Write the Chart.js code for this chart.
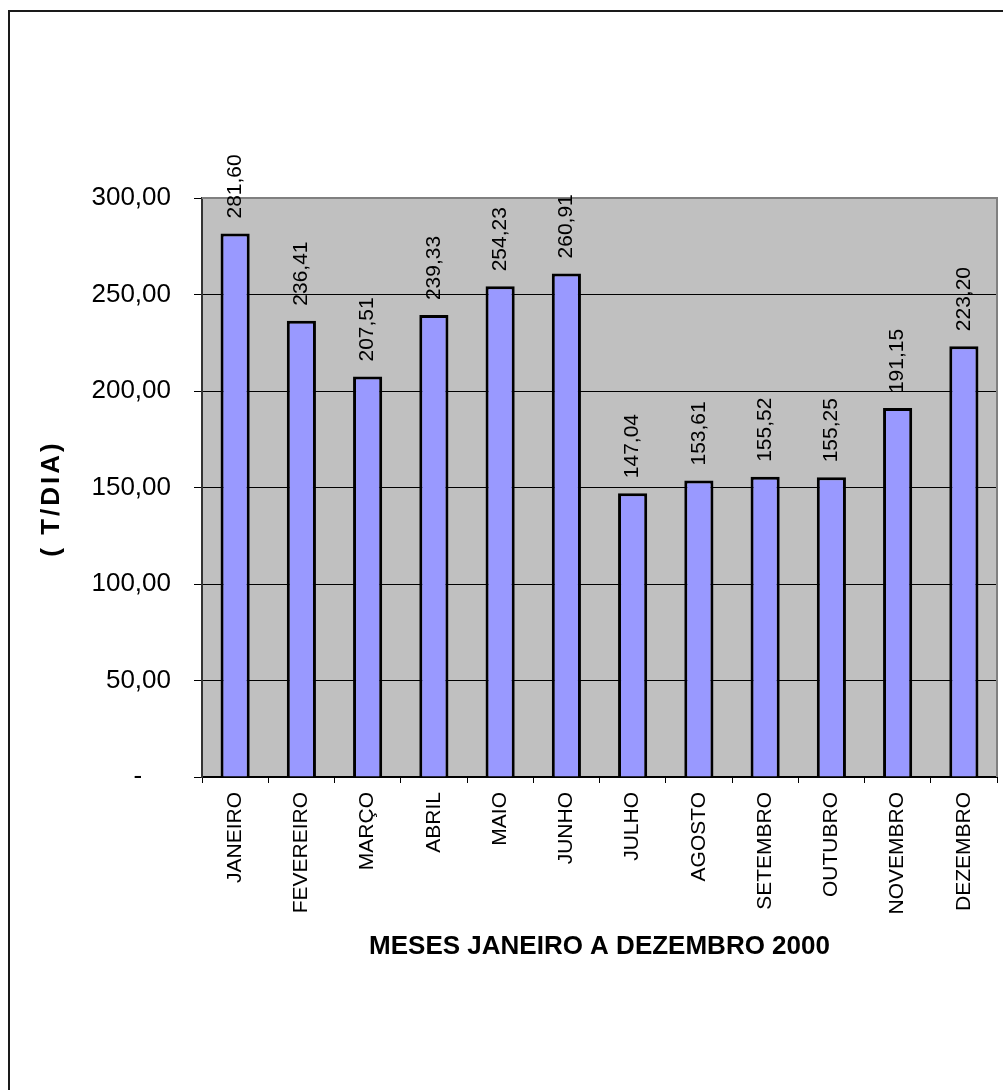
<!DOCTYPE html>
<html>
<head>
<meta charset="utf-8">
<script src="https://cdn.jsdelivr.net/npm/chart.js@4.4.0/dist/chart.umd.min.js"></script>
<style>
  body { margin: 0; background: #fff; }
  canvas { display: block; }
</style>
</head>
<body>
<canvas id="chart" width="1003" height="1090"></canvas>
<script>
const months = ['JANEIRO', 'FEVEREIRO', 'MARÇO', 'ABRIL', 'MAIO', 'JUNHO',
  'JULHO', 'AGOSTO', 'SETEMBRO', 'OUTUBRO', 'NOVEMBRO', 'DEZEMBRO'];
const tonsPerDay = [281.60, 236.41, 207.51, 239.33, 254.23, 260.91,
  147.04, 153.61, 155.52, 155.25, 191.15, 223.20];
const yAxisTitle = '( T/DIA)';
const xAxisTitle = 'MESES JANEIRO A DEZEMBRO 2000';

const FONT = 'Arial, "Liberation Sans", sans-serif';

// 281.6 -> "281,60"
function fmt(v) {
  return v.toFixed(2).replace('.', ',');
}

// Page frame, gray plot area, value labels and axis titles
const decorations = {
  id: 'decorations',
  beforeDraw(chart) {
    const { ctx, chartArea: a } = chart;
    ctx.save();
    ctx.fillStyle = '#fff';
    ctx.fillRect(0, 0, chart.width, chart.height);

    ctx.strokeStyle = '#1a1a1a';
    ctx.lineWidth = 2;
    ctx.beginPath();
    ctx.moveTo(9, chart.height);
    ctx.lineTo(9, 11);
    ctx.lineTo(chart.width, 11);
    ctx.stroke();

    ctx.fillStyle = '#c0c0c0';
    ctx.fillRect(a.left, a.top, a.width, a.height);
    ctx.restore();
  },
  beforeDatasetsDraw(chart) {
    const { ctx, chartArea: a } = chart;
    ctx.save();
    ctx.strokeStyle = '#808080';
    ctx.lineWidth = 2;
    ctx.beginPath();
    ctx.moveTo(a.left, a.top);
    ctx.lineTo(a.right, a.top);
    ctx.lineTo(a.right, a.bottom);
    ctx.stroke();
    ctx.restore();
  },
  afterDatasetsDraw(chart) {
    const { ctx, chartArea: a } = chart;
    const bars = chart.getDatasetMeta(0).data;
    ctx.save();
    ctx.fillStyle = '#000';
    ctx.font = '21px ' + FONT;
    ctx.textAlign = 'left';
    ctx.textBaseline = 'middle';
    bars.forEach((bar, i) => {
      ctx.save();
      ctx.translate(bar.x, bar.y - 15);
      ctx.rotate(-Math.PI / 2);
      ctx.fillText(fmt(tonsPerDay[i]), 0, 0);
      ctx.restore();
    });

    // axis titles
    ctx.font = 'bold 26px ' + FONT;
    ctx.textAlign = 'center';
    ctx.fillText(xAxisTitle, (a.left + a.right) / 2, a.bottom + 170);

    ctx.save();
    ctx.translate(52, (a.top + a.bottom) / 2 + 11);
    ctx.rotate(-Math.PI / 2);
    ctx.letterSpacing = '3px';
    ctx.fillText(yAxisTitle, 0, 0);
    ctx.restore();
    ctx.restore();
  }
};

new Chart(document.getElementById('chart'), {
  type: 'bar',
  data: {
    labels: months,
    datasets: [{
      data: tonsPerDay,
      backgroundColor: '#9999ff',
      borderColor: '#000',
      borderWidth: 3,
      categoryPercentage: 1,
      barPercentage: 0.44
    }]
  },
  options: {
    responsive: false,
    animation: false,
    layout: { padding: { top: 198, right: 6, left: 0, bottom: 0 } },
    plugins: {
      legend: { display: false },
      tooltip: { enabled: false }
    },
    scales: {
      x: {
        afterFit: scale => { scale.height = 313; },
        grid: {
          drawOnChartArea: false,
          offset: true,
          tickLength: 6,
          color: '#000'
        },
        border: { color: '#000', width: 2 },
        ticks: {
          minRotation: 90,
          maxRotation: 90,
          padding: 9,
          color: '#000',
          font: { family: FONT, size: 21 }
        }
      },
      y: {
        min: 0,
        max: 300,
        afterFit: scale => { scale.width = 202; },
        grid: { color: '#000', lineWidth: 1, tickLength: 8 },
        border: { color: '#333', width: 2 },
        ticks: {
          stepSize: 50,
          padding: 23,
          color: '#000',
          font: { family: FONT, size: 26 },
          callback: v => v === 0 ? '-    ' : fmt(v)
        }
      }
    }
  },
  plugins: [decorations]
});
</script>
</body>
</html>
